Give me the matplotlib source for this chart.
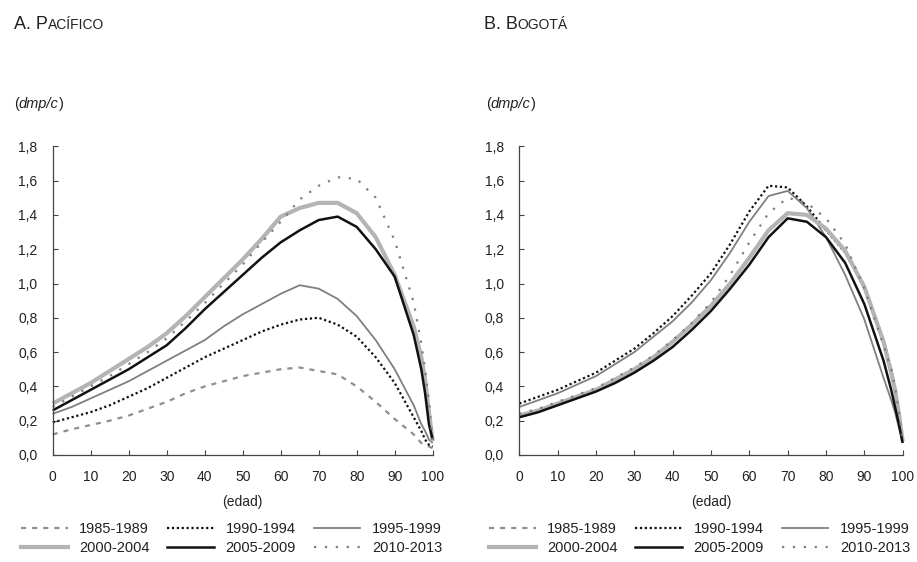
import numpy as np
import matplotlib
matplotlib.use("Agg")
import matplotlib.pyplot as plt
from matplotlib.lines import Line2D
from matplotlib.ticker import FuncFormatter

plt.rcParams["font.family"] = ["Liberation Sans Narrow", "Liberation Sans", "DejaVu Sans"]

# edades en el eje x
edades = [0, 5, 10, 15, 20, 25, 30, 35, 40, 45, 50, 55, 60, 65, 70, 75, 80, 85, 90, 95, 97, 98, 99, 100]

periodos = ["1985-1989", "1990-1994", "1995-1999", "2000-2004", "2005-2009", "2010-2013"]

# A. Pacífico
pac_1985 = [0.12, 0.15, 0.175, 0.20, 0.23, 0.27, 0.31, 0.36, 0.40, 0.43, 0.46, 0.48, 0.50, 0.51, 0.49, 0.47, 0.40, 0.31, 0.21, 0.12, 0.07, 0.06, 0.05, 0.04]
pac_1990 = [0.19, 0.22, 0.25, 0.29, 0.34, 0.39, 0.45, 0.51, 0.57, 0.62, 0.67, 0.72, 0.76, 0.79, 0.80, 0.76, 0.69, 0.57, 0.42, 0.22, 0.14, 0.09, 0.06, 0.05]
pac_1995 = [0.24, 0.28, 0.33, 0.38, 0.43, 0.49, 0.55, 0.61, 0.67, 0.75, 0.82, 0.88, 0.94, 0.99, 0.97, 0.91, 0.81, 0.67, 0.50, 0.29, 0.18, 0.14, 0.09, 0.07]
pac_2000 = [0.30, 0.36, 0.42, 0.49, 0.56, 0.63, 0.71, 0.81, 0.92, 1.03, 1.14, 1.26, 1.39, 1.44, 1.47, 1.47, 1.41, 1.27, 1.05, 0.75, 0.57, 0.44, 0.25, 0.08]
pac_2005 = [0.26, 0.32, 0.38, 0.44, 0.50, 0.57, 0.64, 0.74, 0.85, 0.95, 1.05, 1.15, 1.24, 1.31, 1.37, 1.39, 1.33, 1.20, 1.04, 0.70, 0.50, 0.36, 0.18, 0.09]
pac_2010 = [0.28, 0.34, 0.40, 0.46, 0.53, 0.60, 0.68, 0.78, 0.885, 1.00, 1.11, 1.24, 1.36, 1.49, 1.57, 1.62, 1.61, 1.50, 1.25, 0.89, 0.65, 0.50, 0.32, 0.07]

# B. Bogotá (sin serie 1985-1989)
bog_1985 = []
bog_1990 = [0.30, 0.34, 0.38, 0.43, 0.48, 0.55, 0.62, 0.71, 0.81, 0.93, 1.06, 1.23, 1.42, 1.57, 1.56, 1.45, 1.31, 1.18, 0.98, 0.67, 0.50, 0.38, 0.24, 0.08]
bog_1995 = [0.28, 0.32, 0.36, 0.41, 0.46, 0.53, 0.60, 0.69, 0.78, 0.89, 1.02, 1.18, 1.36, 1.51, 1.54, 1.44, 1.27, 1.05, 0.79, 0.45, 0.32, 0.25, 0.16, 0.08]
bog_2000 = [0.23, 0.26, 0.30, 0.34, 0.38, 0.44, 0.50, 0.57, 0.66, 0.76, 0.87, 1.00, 1.15, 1.31, 1.41, 1.40, 1.32, 1.19, 0.98, 0.66, 0.48, 0.38, 0.24, 0.08]
bog_2005 = [0.22, 0.25, 0.29, 0.33, 0.37, 0.42, 0.48, 0.55, 0.63, 0.73, 0.84, 0.97, 1.11, 1.27, 1.38, 1.36, 1.27, 1.12, 0.88, 0.55, 0.38, 0.28, 0.18, 0.07]
bog_2010 = [0.24, 0.27, 0.31, 0.35, 0.39, 0.45, 0.51, 0.58, 0.67, 0.77, 0.89, 1.05, 1.24, 1.41, 1.50, 1.47, 1.38, 1.23, 0.97, 0.64, 0.50, 0.40, 0.25, 0.08]

estilos = [
    dict(color="#8f8f8f", lw=1.6, ls=(0, (2.3, 2.7))),
    dict(color="#111111", lw=1.6, ls=(0, (1, 1.2))),
    dict(color="#7f7f7f", lw=1.3, ls="-"),
    dict(color="#b4b4b4", lw=3.0, ls="-"),
    dict(color="#111111", lw=1.8, ls="-"),
    dict(color="#7f7f7f", lw=1.6, ls=(0, (1, 3.9))),
]

W, H = 917, 562
fig = plt.figure(figsize=(W / 100, H / 100), dpi=100)
fig.patch.set_facecolor("white")


def ejes_px(x0, x1, y_top, y_bot):
    return fig.add_axes([x0 / W, 1 - y_bot / H, (x1 - x0) / W, (y_bot - y_top) / H])


def coma(v, pos):
    return f"{v:.1f}".replace(".", ",")


def texto_seguido(x, y, piezas):
    r = fig.canvas.get_renderer()
    for s, kw in piezas:
        t = fig.text(x / W, 1 - y / H, s, va="baseline", ha="left", **kw)
        x = t.get_window_extent(renderer=r).x1


def panel(ax, series):
    for datos, est in zip(series, estilos):
        if len(datos) == 0:
            continue
        ax.plot(edades, datos, solid_capstyle="butt", dash_capstyle="butt", clip_on=False, **est)
    ax.set_xlim(0, 100)
    ax.set_ylim(0, 1.8)
    ax.set_xticks(np.arange(0, 101, 10))
    ax.set_yticks(np.arange(0, 1.81, 0.2))
    ax.yaxis.set_major_formatter(FuncFormatter(coma))
    for lado in ["top", "right"]:
        ax.spines[lado].set_visible(False)
    for lado in ["left", "bottom"]:
        ax.spines[lado].set_color("#444444")
        ax.spines[lado].set_linewidth(0.9)
    ax.tick_params(direction="in", length=3.5, width=0.8, color="#444444", labelsize=10, labelcolor="#222222")
    ax.tick_params(axis="y", pad=11)
    ax.tick_params(axis="x", pad=11)


ax1 = ejes_px(52.7, 432.7, 146.3, 455)
ax2 = ejes_px(519.3, 902.7, 146.3, 455)
panel(ax1, [pac_1985, pac_1990, pac_1995, pac_2000, pac_2005, pac_2010])
panel(ax2, [bog_1985, bog_1990, bog_1995, bog_2000, bog_2005, bog_2010])

# títulos en versalitas
texto_seguido(14, 29, [("A. P", dict(fontsize=13, color="#222222")), ("ACÍFICO", dict(fontsize=10, color="#222222"))])
texto_seguido(484, 29, [("B. B", dict(fontsize=13, color="#222222")), ("OGOTÁ", dict(fontsize=10, color="#222222"))])

for x in [14, 486]:
    texto_seguido(x, 108, [("(", dict(fontsize=10.5, color="#222222")),
                           ("dmp/c", dict(fontsize=10.5, style="italic", color="#222222")),
                           (")", dict(fontsize=10.5, color="#222222"))])

for ax, x_leg in [(ax1, 21), (ax2, 489)]:
    pos = ax.get_position()
    fig.text((pos.x0 + pos.x1) / 2, 1 - 502 / H, "(edad)", ha="center", va="center", fontsize=10, color="#222222")
    manejadores = [Line2D([], [], **est) for est in estilos]
    orden = [0, 3, 1, 4, 2, 5]
    fig.legend([manejadores[i] for i in orden], [periodos[i] for i in orden],
               ncol=3, loc="upper left", bbox_to_anchor=(x_leg / W, 1 - 522 / H),
               frameon=False, fontsize=10.5, handlelength=3.2, handletextpad=0.8,
               columnspacing=1.2, labelspacing=0.35, borderpad=0, borderaxespad=0,
               labelcolor="#222222")

fig.savefig("out.png", dpi=100, facecolor="white")
